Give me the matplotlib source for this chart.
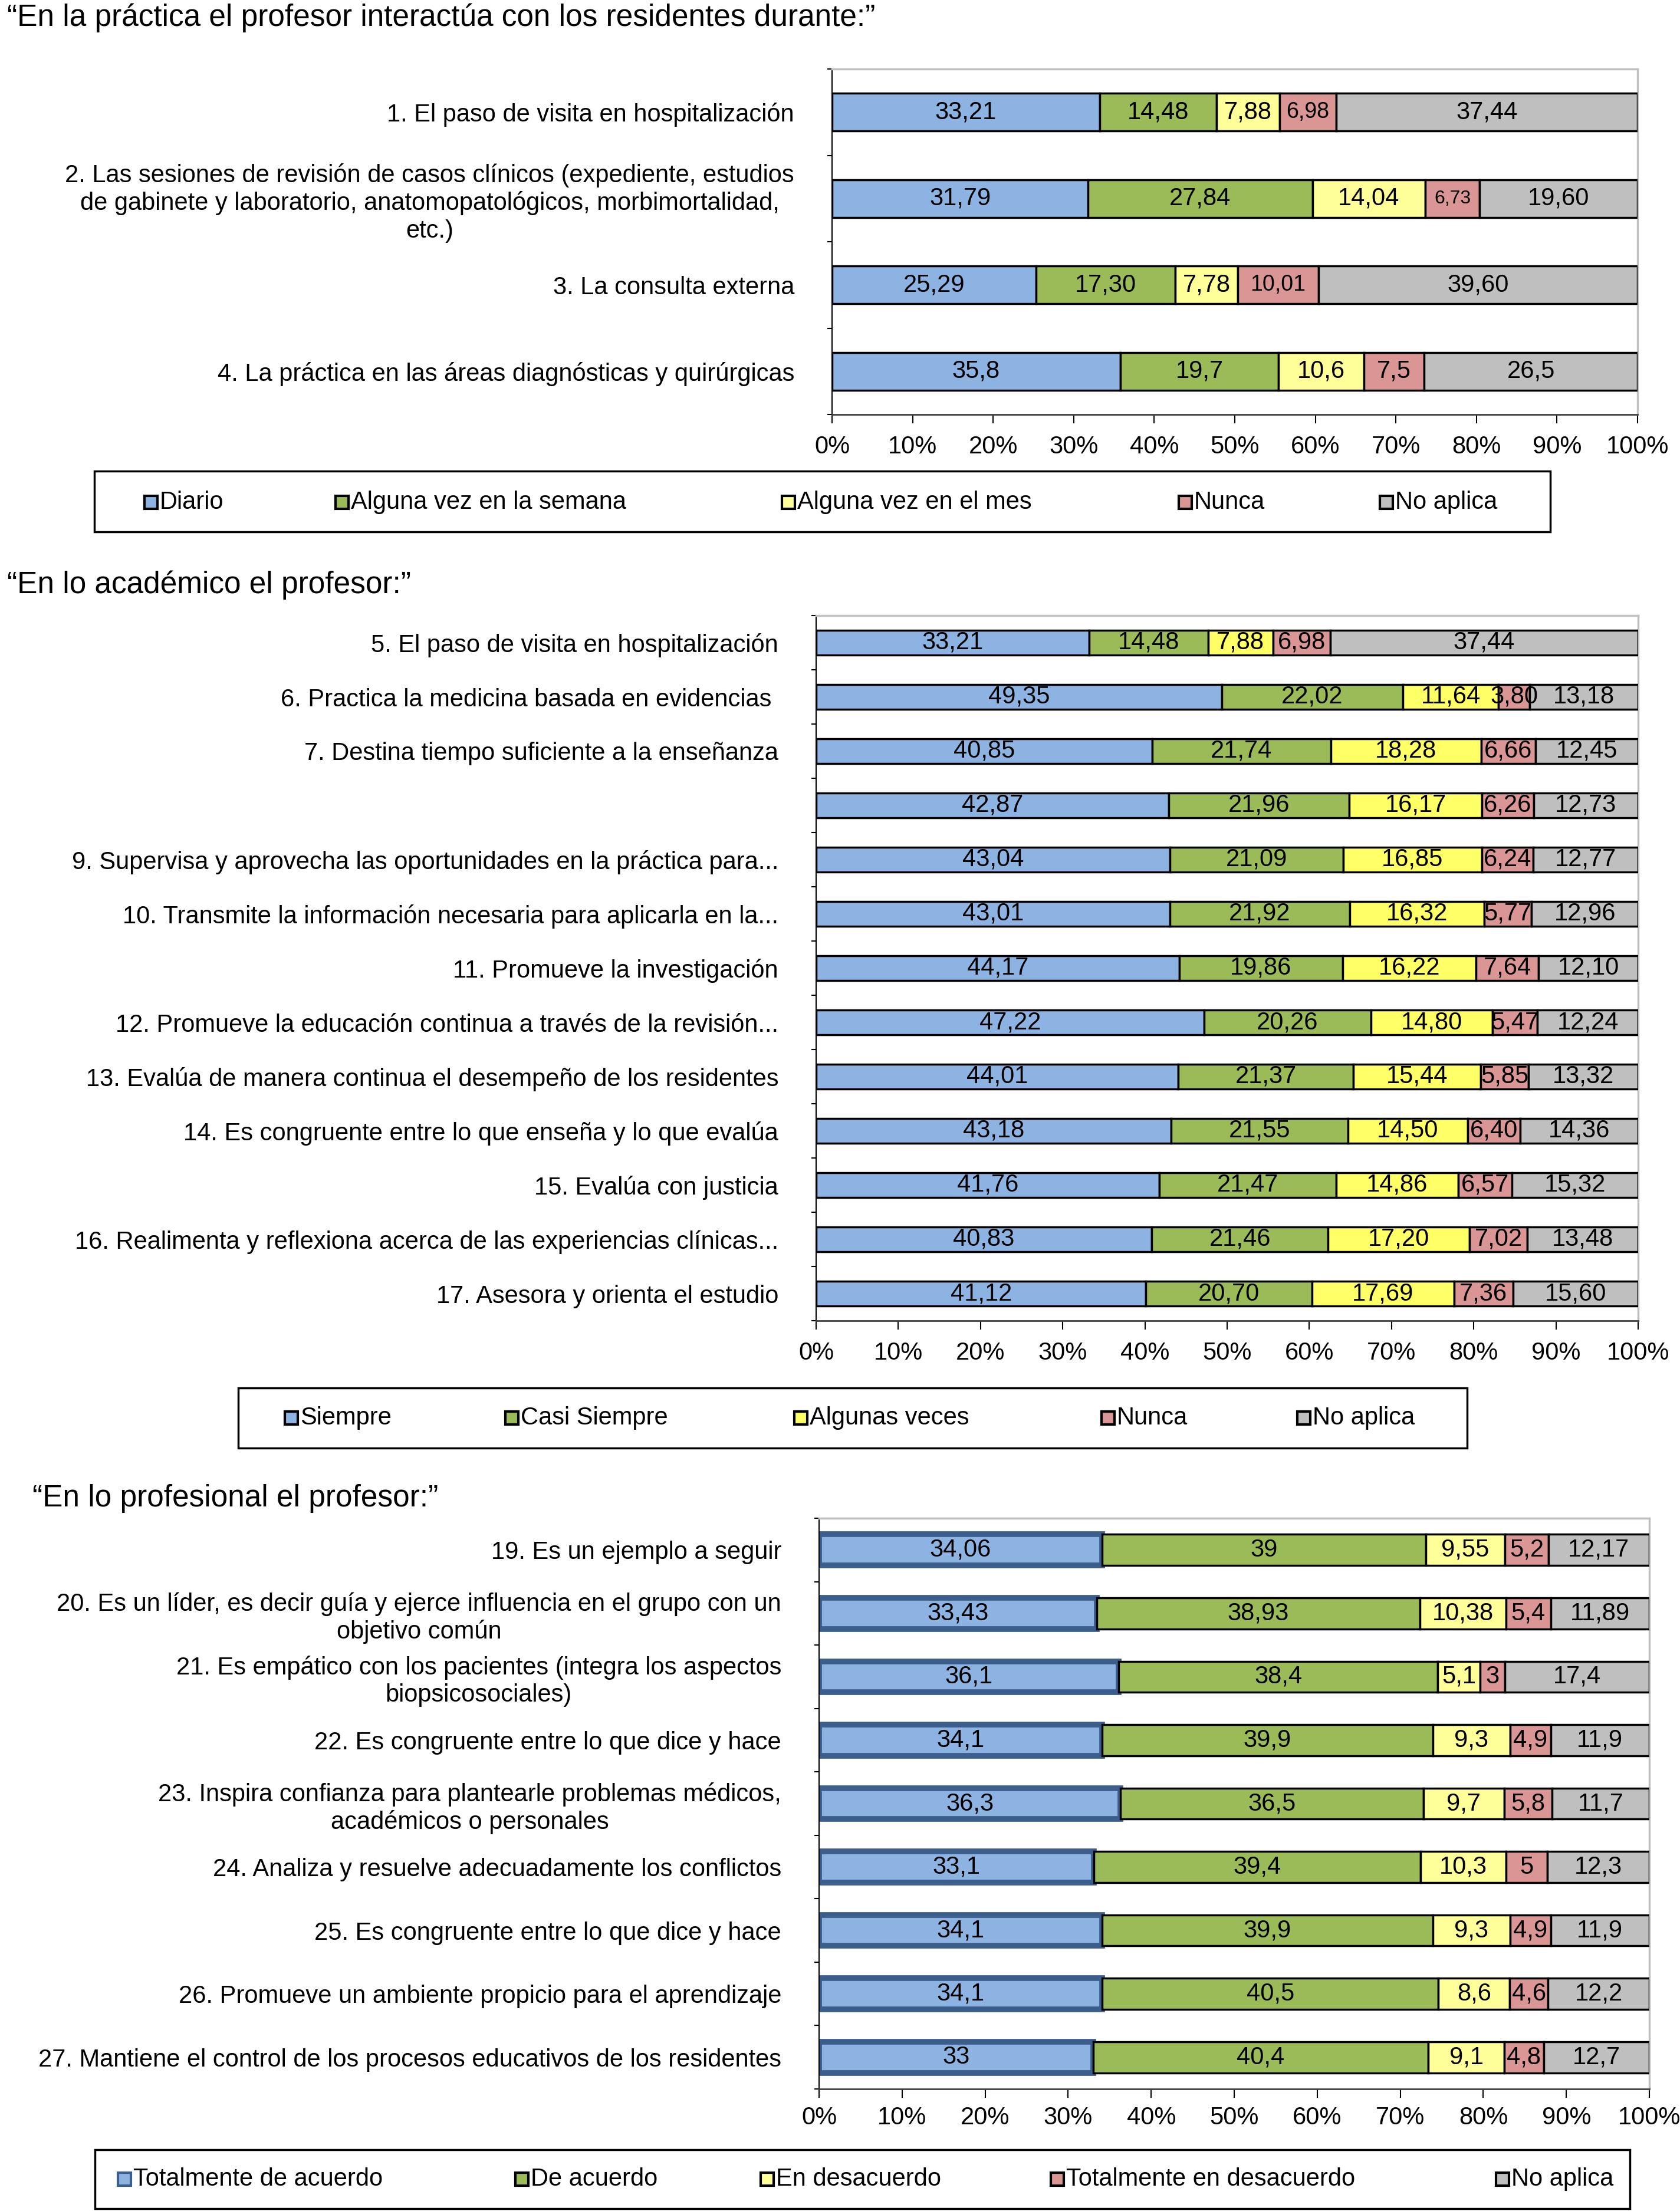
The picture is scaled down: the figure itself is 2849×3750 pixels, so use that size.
import matplotlib
matplotlib.use("Agg")
import matplotlib.pyplot as plt
from matplotlib.patches import Rectangle
import numpy as np

plt.rcParams["font.family"] = ["Liberation Sans", "DejaVu Sans"]

# ---- panel 1: "En la práctica..."
cats1 = ["1. El paso de visita en hospitalización",
         "2. Las sesiones de revisión de casos clínicos (expediente, estudios\n"
         "de gabinete y laboratorio, anatomopatológicos, morbimortalidad,\netc.)",
         "3. La consulta externa",
         "4. La práctica en las áreas diagnósticas y quirúrgicas"]
diario = [33.21, 31.79, 25.29, 35.8]
semana = [14.48, 27.84, 17.30, 19.7]
mes = [7.88, 14.04, 7.78, 10.6]
nunca1 = [6.98, 6.73, 10.01, 7.5]
noaplica1 = [37.44, 19.60, 39.60, 26.5]
decimals1 = [2, 2, 2, 1]
legend1 = ["Diario", "Alguna vez en la semana", "Alguna vez en el mes", "Nunca", "No aplica"]

# ---- panel 2: "En lo académico..."
cats2 = ["5. El paso de visita en hospitalización",
         "6. Practica la medicina basada en evidencias ",
         "7. Destina tiempo suficiente a la enseñanza",
         "",
         "9. Supervisa y aprovecha las oportunidades en la práctica para...",
         "10. Transmite la información necesaria para aplicarla en la...",
         "11. Promueve la investigación",
         "12. Promueve la educación continua a través de la revisión...",
         "13. Evalúa de manera continua el desempeño de los residentes",
         "14. Es congruente entre lo que enseña y lo que evalúa",
         "15. Evalúa con justicia",
         "16. Realimenta y reflexiona acerca de las experiencias clínicas...",
         "17. Asesora y orienta el estudio"]
siempre = [33.21, 49.35, 40.85, 42.87, 43.04, 43.01, 44.17, 47.22, 44.01, 43.18, 41.76, 40.83, 41.12]
casi = [14.48, 22.02, 21.74, 21.96, 21.09, 21.92, 19.86, 20.26, 21.37, 21.55, 21.47, 21.46, 20.70]
algunas = [7.88, 11.64, 18.28, 16.17, 16.85, 16.32, 16.22, 14.80, 15.44, 14.50, 14.86, 17.20, 17.69]
nunca2 = [6.98, 3.80, 6.66, 6.26, 6.24, 5.77, 7.64, 5.47, 5.85, 6.40, 6.57, 7.02, 7.36]
noaplica2 = [37.44, 13.18, 12.45, 12.73, 12.77, 12.96, 12.10, 12.24, 13.32, 14.36, 15.32, 13.48, 15.60]
legend2 = ["Siempre", "Casi Siempre", "Algunas veces", "Nunca", "No aplica"]

# ---- panel 3: "En lo profesional..."
cats3 = ["19. Es un ejemplo a seguir",
         "20. Es un líder, es decir guía y ejerce influencia en el grupo con un\nobjetivo común",
         "21. Es empático con los pacientes (integra los aspectos\nbiopsicosociales)",
         "22. Es congruente entre lo que dice y hace",
         "23. Inspira confianza para plantearle problemas médicos,\nacadémicos o personales",
         "24. Analiza y resuelve adecuadamente los conflictos",
         "25. Es congruente entre lo que dice y hace",
         "26. Promueve un ambiente propicio para el aprendizaje",
         "27. Mantiene el control de los procesos educativos de los residentes"]
tot_acuerdo = [34.06, 33.43, 36.1, 34.1, 36.3, 33.1, 34.1, 34.1, 33]
acuerdo = [39, 38.93, 38.4, 39.9, 36.5, 39.4, 39.9, 40.5, 40.4]
desacuerdo = [9.55, 10.38, 5.1, 9.3, 9.7, 10.3, 9.3, 8.6, 9.1]
tot_desacuerdo = [5.2, 5.4, 3, 4.9, 5.8, 5, 4.9, 4.6, 4.8]
noaplica3 = [12.17, 11.89, 17.4, 11.9, 11.7, 12.3, 11.9, 12.2, 12.7]
legend3 = ["Totalmente de acuerdo", "De acuerdo", "En desacuerdo", "Totalmente en desacuerdo", "No aplica"]

BLUE, GREEN, RED, GRAY = "#8db3e2", "#9bbb59", "#d99694", "#bfbfbf"
COLORS1 = [BLUE, GREEN, "#ffff99", RED, GRAY]
COLORS2 = [BLUE, GREEN, "#ffff66", RED, GRAY]
COLORS3 = [BLUE, GREEN, "#ffff99", RED, GRAY]
FS = 30
W, H = 2849, 3750


def fmt_fixed(decs):
    return lambda v, i: f"{v:.{decs[i]}f}".replace(".", ",")


def fmt_general(v, i):
    return f"{v:g}".replace(".", ",")


def draw_panel(rect, cats, series, colors, height, fmt, first_edge=("black", 2.5), xpad=10):
    ax = fig.add_axes(rect)
    n = len(cats)
    y = np.arange(n)
    data = np.array(series, dtype=float)
    totals = data.sum(axis=0)
    left = np.zeros(n)
    for k, (vals, col) in enumerate(zip(data, colors)):
        w = vals / totals * 100   # 100 % stacked, like the original chart
        ec, lw = first_edge if k == 0 else ("black", 2.5)
        bars = ax.barh(y, w, height, left=left, color=col, edgecolor=ec, linewidth=lw,
                       zorder=3 if k else 2)
        texts = ax.bar_label(bars, labels=[fmt(v, i) for i, v in enumerate(vals)],
                             label_type="center", fontsize=FS, color="black")
        for t in texts:
            t.set_zorder(5)
        left += w
    ax.set_xlim(0, 100)
    ax.set_ylim(n - 0.5, -0.5)
    ax.set_xticks(np.arange(0, 101, 10))
    ax.set_xticklabels([f"{v}%" for v in range(0, 101, 10)], fontsize=FS)
    ax.set_yticks(y)
    ax.set_yticklabels(cats, fontsize=FS)
    for t in ax.get_yticklabels():
        t.set_multialignment("center")
    ax.set_yticks(np.arange(n + 1) - 0.5, minor=True)
    ax.tick_params(axis="y", which="major", length=0, pad=46)
    ax.tick_params(axis="y", which="minor", length=6, width=1.5, direction="out")
    ax.tick_params(axis="x", length=11, width=1.5, pad=xpad)
    ax.spines["top"].set_color("#c0c0c0")
    ax.spines["right"].set_color("#c0c0c0")
    ax.spines["top"].set_linewidth(2.5)
    ax.spines["right"].set_linewidth(2.5)
    ax.spines["left"].set_linewidth(1.5)
    ax.spines["bottom"].set_color("#404040")
    ax.spines["bottom"].set_linewidth(2)
    return ax


def draw_legend(box, labels, colors, xs, yc, first_edge="black"):
    x0, y0, x1, y1 = box
    fig.patches.append(Rectangle((x0 / W, 1 - y1 / H), (x1 - x0) / W, (y1 - y0) / H,
                                 transform=fig.transFigure, fill=False,
                                 edgecolor="black", linewidth=2.5))
    s = 22
    for k, (lab, col, x) in enumerate(zip(labels, colors, xs)):
        ec = first_edge if k == 0 else "black"
        fig.patches.append(Rectangle((x / W, 1 - (yc + s / 2) / H), s / W, s / H,
                                     transform=fig.transFigure, facecolor=col,
                                     edgecolor=ec, linewidth=3))
        fig.text((x + s + 4) / W, 1 - yc / H, lab, fontsize=FS, va="center", ha="left")


fig = plt.figure(figsize=(W / 100, H / 100), dpi=100)

# titles
fig.text(12 / W, 1 - 30 / H, "“En la práctica el profesor interactúa con los residentes durante:”",
         fontsize=37, va="center", ha="left")
fig.text(12 / W, 1 - 992 / H, "“En lo académico el profesor:”", fontsize=37, va="center", ha="left")
fig.text(55 / W, 1 - 2541 / H, "“En lo profesional el profesor:”", fontsize=37, va="center", ha="left")

ax1 = draw_panel([1411 / W, 1 - 703 / H, (2777 - 1411) / W, (703 - 117) / H], cats1,
                 [diario, semana, mes, nunca1, noaplica1], COLORS1, 0.44, fmt_fixed(decimals1),
                 xpad=14)
# the narrow "Nunca" labels in panel 1 are drawn smaller
for t in ax1.texts:
    if t.get_text() in ("6,98", "10,01"):
        t.set_fontsize(27)
    if t.get_text() == "6,73":
        t.set_fontsize(23)

draw_panel([1384 / W, 1 - 2240 / H, (2778 - 1384) / W, (2240 - 1044) / H], cats2,
           [siempre, casi, algunas, nunca2, noaplica2], COLORS2, 0.45,
           fmt_fixed([2] * len(cats2)), xpad=14)

draw_panel([1389 / W, 1 - 3543 / H, (2797 - 1389) / W, (3543 - 2575) / H], cats3,
           [tot_acuerdo, acuerdo, desacuerdo, tot_desacuerdo, noaplica3], COLORS3, 0.49,
           fmt_general, first_edge=("#3b5e8c", 7))

draw_legend((160, 799, 2629, 902), legend1, COLORS1, [245, 569, 1326, 1999, 2340], 852)
draw_legend((404, 2354, 2488, 2456), legend2, COLORS2, [483, 857, 1347, 1868, 2200], 2405)
draw_legend((161, 3646, 2764, 3746), legend3, COLORS3, [200, 874, 1290, 1782, 2537], 3696,
            first_edge="#3b5e8c")

fig.savefig("out.png", dpi=100)
